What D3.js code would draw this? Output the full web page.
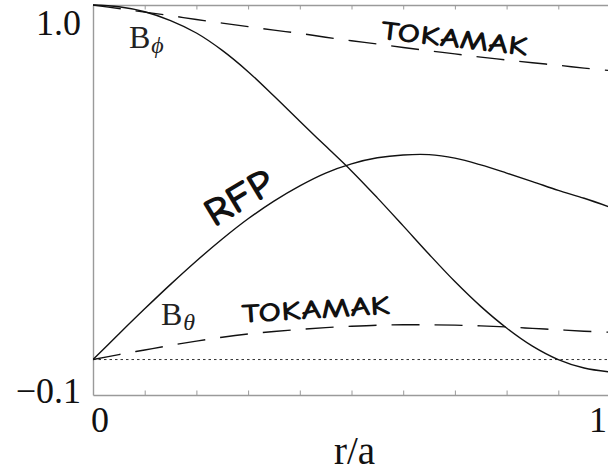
<!DOCTYPE html>
<html>
<head>
<meta charset="utf-8">
<script src="https://cdn.jsdelivr.net/npm/d3@7/dist/d3.min.js"></script>
<style>
  html, body { margin: 0; padding: 0; background: #fff; }
  svg { display: block; }
</style>
</head>
<body>
<svg id="chart" width="608" height="473"></svg>
<script>
// Radius grid (r/a)
const radius = [0, 0.05, 0.10, 0.15, 0.20, 0.25, 0.30, 0.35, 0.40, 0.45, 0.50,
                0.55, 0.60, 0.65, 0.70, 0.75, 0.80, 0.85, 0.90, 0.95, 1.00];

// Reversed-field pinch profiles
const rfpBphi   = [1.000, 0.995, 0.981, 0.956, 0.921, 0.872, 0.812, 0.743, 0.672, 0.602, 0.532,
                   0.456, 0.377, 0.297, 0.220, 0.150, 0.089, 0.038, 0.000, -0.024, -0.035];
const rfpBtheta = [0.000, 0.072, 0.143, 0.212, 0.278, 0.340, 0.397, 0.447, 0.490, 0.526, 0.552,
                   0.569, 0.577, 0.578, 0.568, 0.549, 0.526, 0.502, 0.477, 0.455, 0.430];

// Tokamak profiles
const tokBphi   = [1.000, 0.990, 0.980, 0.970, 0.959, 0.949, 0.939, 0.929, 0.920, 0.909, 0.899,
                   0.890, 0.880, 0.871, 0.862, 0.853, 0.845, 0.837, 0.830, 0.822, 0.815];
const tokBtheta = [0.000, 0.014, 0.027, 0.040, 0.052, 0.063, 0.072, 0.079, 0.085, 0.090, 0.094,
                   0.097, 0.098, 0.098, 0.097, 0.095, 0.092, 0.088, 0.084, 0.080, 0.077];

const xTicks = [0, 0.1, 0.2, 0.3, 0.4, 0.5, 0.6, 0.7, 0.8, 0.9, 1.0];
const xTickLabels = [{v: 0, t: "0"}, {v: 1, t: "1"}];
const yTickLabels = [{v: 1.0, t: "1.0"}, {v: -0.1, t: "\u22120.1"}];

const svg = d3.select("#chart");
const plotLeft = 93, plotRight = 610, plotTop = 5, plotBottom = 395;

const x = d3.scaleLinear().domain([0, 1]).range([plotLeft, plotRight]);
const y = d3.scaleLinear().domain([-0.1, 1.0]).range([plotBottom, plotTop]);

const frameColor = "#9a9a9a";
const serif = "'Liberation Serif', 'Times New Roman', serif";
const hand = "'Comic Sans MS', 'Comic Neue', Lato, sans-serif";

svg.append("defs").append("clipPath").attr("id", "plotClip")
  .append("rect").attr("x", plotLeft).attr("y", plotTop - 2)
  .attr("width", plotRight - plotLeft).attr("height", plotBottom - plotTop + 4);

// Frame with inward ticks on top and bottom
const axB = svg.append("g").attr("transform", `translate(0,${plotBottom})`)
  .call(d3.axisBottom(x).tickValues(xTicks).tickSize(-4.5).tickSizeOuter(0).tickFormat(""));
const axT = svg.append("g").attr("transform", `translate(0,${plotTop})`)
  .call(d3.axisTop(x).tickValues(xTicks).tickSize(-4.5).tickSizeOuter(0).tickFormat(""));
const axL = svg.append("g").attr("transform", `translate(${plotLeft},0)`)
  .call(d3.axisLeft(y).tickValues([]).tickSizeOuter(0));
[axB, axT, axL].forEach(g => {
  g.selectAll("path").attr("stroke", frameColor).attr("stroke-width", 1.4);
  g.selectAll("line").attr("stroke", frameColor).attr("stroke-width", 1);
});

// Zero reference line
svg.append("line")
  .attr("x1", x(0)).attr("x2", x(1)).attr("y1", y(0)).attr("y2", y(0))
  .attr("stroke", "#333").attr("stroke-width", 1)
  .attr("stroke-dasharray", "2.5,3");

const line = d3.line()
  .x((d, i) => x(radius[i]))
  .y(d => y(d))
  .curve(d3.curveCatmullRom.alpha(0.5));

const plot = svg.append("g").attr("clip-path", "url(#plotClip)");
const series = [
  {vals: rfpBphi,   dash: null},
  {vals: rfpBtheta, dash: null},
  {vals: tokBphi,   dash: "28,15"},
  {vals: tokBtheta, dash: "28,15"}
];
series.forEach(s => {
  plot.append("path")
    .datum(s.vals)
    .attr("d", line)
    .attr("fill", "none")
    .attr("stroke", "#111")
    .attr("stroke-width", 1.4)
    .attr("stroke-dasharray", s.dash);
});

// Tick labels
svg.selectAll(".ylab").data(yTickLabels).enter().append("text")
  .attr("x", 81).attr("y", d => y(d.v) + (d.v > 0 ? 30 : 8))
  .attr("text-anchor", "end")
  .attr("font-family", serif).attr("font-size", 36).attr("fill", "#111")
  .text(d => d.t);

svg.selectAll(".xlab").data(xTickLabels).enter().append("text")
  .attr("x", d => d.v === 0 ? x(d.v) + 7 : x(d.v) - 3)
  .attr("y", 432)
  .attr("text-anchor", d => d.v === 0 ? "middle" : "end")
  .attr("font-family", serif).attr("font-size", 36).attr("fill", "#111")
  .text(d => d.t);

// Axis title
svg.append("text")
  .attr("x", (plotLeft + plotRight) / 2 + 3).attr("y", 464)
  .attr("text-anchor", "middle")
  .attr("font-family", serif).attr("font-size", 39).attr("fill", "#111")
  .text("r/a");

// Field component labels
function fieldLabel(px, py, sub) {
  const t = svg.append("text").attr("x", px).attr("y", py)
    .attr("font-family", serif).attr("font-size", 32).attr("fill", "#222");
  t.append("tspan").text("B");
  t.append("tspan").attr("dx", 1).attr("dy", 5).attr("font-size", 24).attr("font-style", "italic").text(sub);
}
fieldLabel(129, 48, "\u03d5");
fieldLabel(161, 325, "\u03b8");

// Hand-lettered curve labels
function handLabel(px, py, angle, len, size, txt) {
  svg.append("text")
    .attr("transform", `translate(${px},${py}) rotate(${angle})`)
    .attr("font-family", hand).attr("font-weight", 700)
    .attr("font-size", size).attr("fill", "#111")
    .attr("textLength", len).attr("lengthAdjust", "spacingAndGlyphs")
    .text(txt);
}
handLabel(380, 39, 6.5, 148, 27, "TOKAMAK");
handLabel(242, 323, -3.5, 149, 27, "TOKAMAK");
handLabel(214, 228, -31, 74, 40, "RFP");
</script>
</body>
</html>
